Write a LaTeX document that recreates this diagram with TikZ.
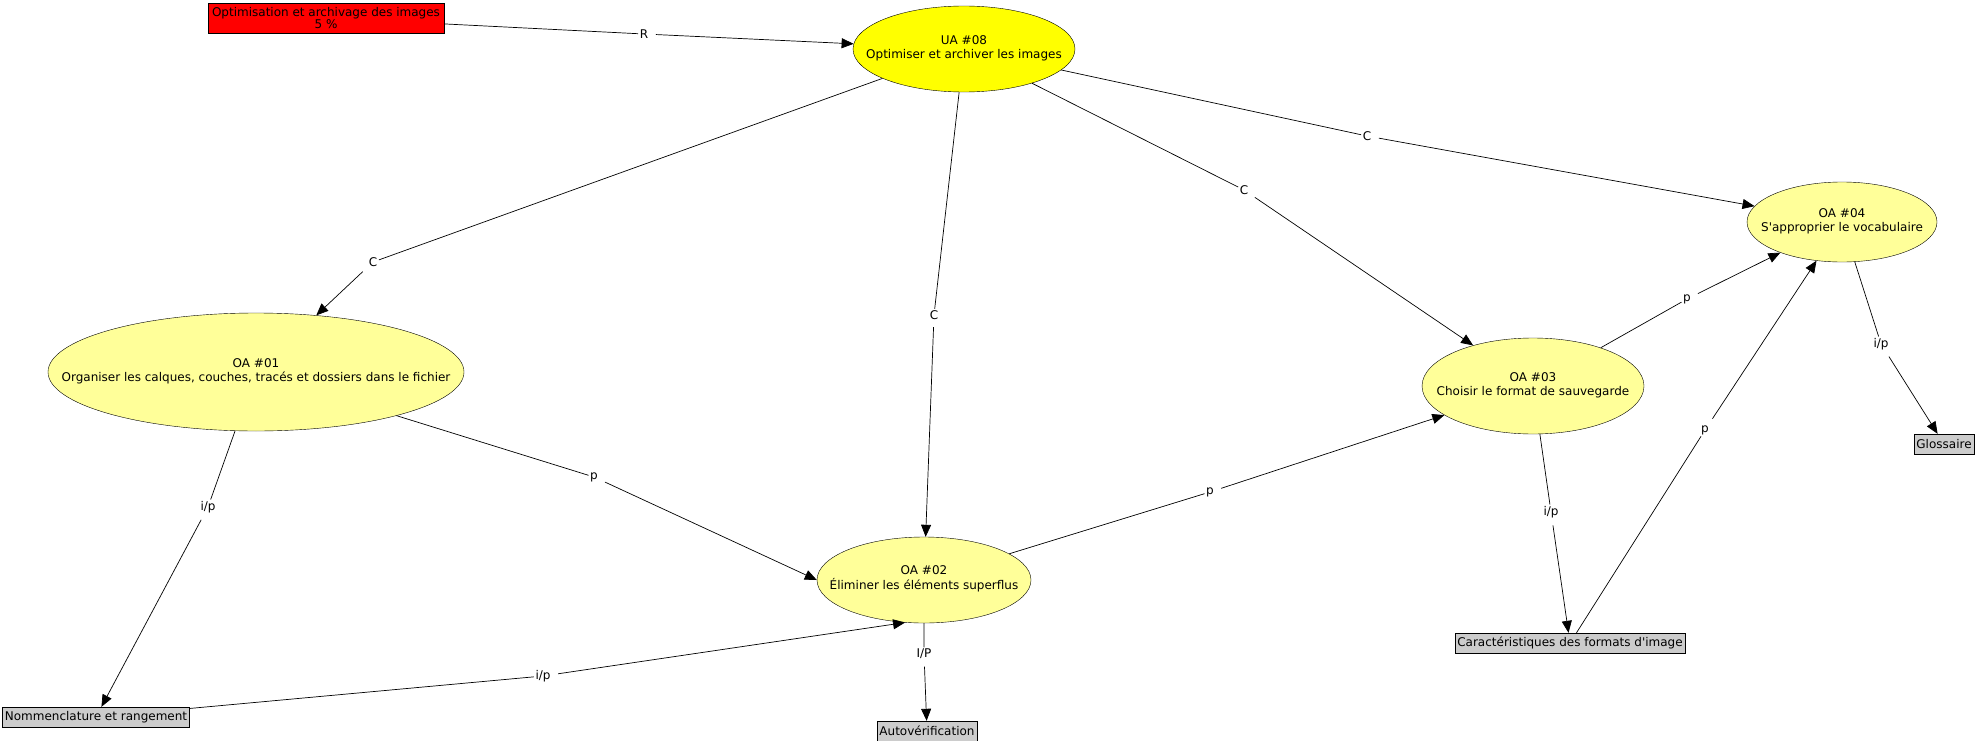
\documentclass[tikz,border=0pt]{standalone}
\usepackage{fontspec}
\setmainfont{DejaVu Sans}[Ligatures=TeXOff]
\usetikzlibrary{arrows.meta,shapes.geometric,positioning}
\definecolor{UAYellow}{RGB}{255,255,0}
\definecolor{OAYellow}{RGB}{255,255,153}
\definecolor{RessGray}{RGB}{204,204,204}
\definecolor{PoidsRed}{RGB}{255,0,0}
% texte centre sans influer sur la taille de l'ellipse
\newcommand{\enclos}[1]{\smash{\makebox[0pt]{\raisebox{-0.35ex}{\begin{tabular}{@{}c@{}}#1\end{tabular}}}}}

\begin{document}
\begin{tikzpicture}[x=1pt,y=-1pt,>={Triangle[length=12pt,width=10pt]},
    font=\fontsize{12}{14}\selectfont,
    poids/.style={draw,fill=PoidsRed,align=center,inner sep=0pt,minimum width=236,minimum height=30,
      font=\fontsize{12}{12.5}\selectfont},
    ua/.style={ellipse,draw,fill=UAYellow,inner sep=0pt},
    oa/.style={ellipse,draw,fill=OAYellow,inner sep=0pt},
    ress/.style={draw,fill=RessGray,inner xsep=2.5pt,inner ysep=0pt,minimum height=20},
    lien/.style={fill=white,inner sep=1.5pt},
    fil/.style={line width=0.7pt,shorten <=6pt}]
      \useasboundingbox (0,0) rectangle (1977,741);
      % concepts
      \node[poids] (poids) at (326,18) {Optimisation et archivage des images\\5 \%};
      \node[ua,minimum width=222,minimum height=86] (ua08) at (964,49) {\enclos{UA \#08\\Optimiser et archiver les images}};
      \node[oa,minimum width=416,minimum height=118] (oa01) at (256,372) {\enclos{OA \#01\\Organiser les calques, couches, tracés et dossiers dans le fichier}};
      \node[oa,minimum width=214,minimum height=86] (oa02) at (924,580) {\enclos{OA \#02\\Éliminer les éléments superflus}};
      \node[oa,minimum width=222,minimum height=96] (oa03) at (1533,386) {\enclos{OA \#03\\Choisir le format de sauvegarde}};
      \node[oa,minimum width=190,minimum height=80] (oa04) at (1842,222) {\enclos{OA \#04\\S'approprier le vocabulaire}};
      \node[ress] (gloss) at (1944,444) {Glossaire};
      \node[ress] (carac) at (1570,643) {Caractéristiques des formats d'image};
      \node[ress] (nomm) at (96,717) {Nommenclature et rangement};
      \node[ress] (autov) at (927,731) {Autovérification};
      % liens
      \node[lien] (r) at (644,34) {R};
      \node[lien] (c1) at (373,262) {C};
      \node[lien] (c2) at (934,315) {C};
      \node[lien] (c3) at (1244,190) {C};
      \node[lien] (c4) at (1367,136) {C};
      \node[lien] (p1) at (594,477) {p};
      \node[lien] (p2) at (1210,492) {p};
      \node[lien] (p3) at (1687,299) {p};
      \node[lien] (p4) at (1705,430) {p};
      \node[lien] (ip1) at (208,507) {i/p};
      \node[lien] (ip3) at (1551,512) {i/p};
      \node[lien] (ip4) at (1881,344) {i/p};
      \node[lien] (ip5) at (543,676) {i/p};
      \node[lien] (ipa) at (924,654) {I/P};
      \draw[fil,->] (poids) -- (r) -- (ua08);
      \draw[fil,->] (ua08) -- (c1) -- (oa01);
      \draw[fil,->] (ua08) -- (c2) -- (oa02);
      \draw[fil,->] (ua08) -- (c3) -- (oa03);
      \draw[fil,->] (ua08) -- (c4) -- (oa04);
      \draw[fil,->] (oa01) -- (p1) -- (oa02.west);
      \draw[fil,->] (oa02) -- (p2) -- (oa03);
      \draw[fil,->] (oa03) -- (p3) -- (oa04);
      \draw[fil,->] (carac) -- (p4) -- (oa04);
      \draw[fil,->] (oa01) -- (ip1) -- (nomm);
      \draw[fil,->] (oa03) -- (ip3) -- (carac);
      \draw[fil,->] (oa04) -- (ip4) -- (gloss);
      \draw[fil,->] (nomm) -- (ip5) -- (oa02.246);
      \draw[fil,->] (oa02) -- (ipa) -- (autov);
    \end{tikzpicture}
\end{document}
